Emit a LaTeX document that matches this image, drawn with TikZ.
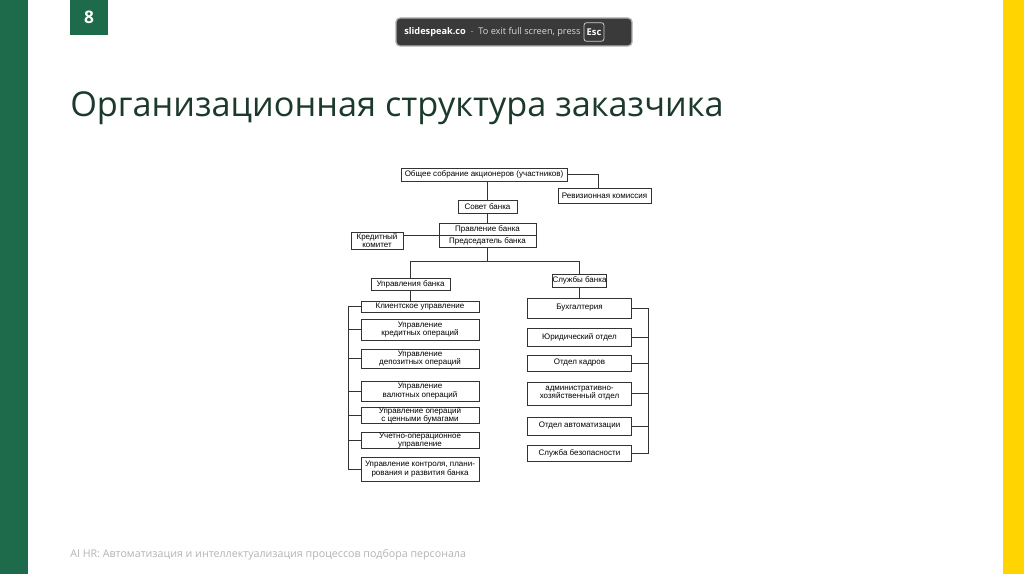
\documentclass[tikz,border=0pt]{standalone}
\usepackage{fontspec}
\setmainfont{Open Sans}
\newfontfamily\chartfont{Liberation Sans}
\definecolor{slidegreen}{HTML}{1E6B4B}
\definecolor{slideyellow}{HTML}{FFD400}
\definecolor{titlecolor}{HTML}{1C3A2C}
\definecolor{footcolor}{HTML}{B4B4B4}
\definecolor{barcolor}{HTML}{3A3A3A}
\definecolor{chartline}{HTML}{333333}
\tikzset{
  box/.style={draw=chartline, line width=0.6pt, inner sep=0pt, align=center,
    font=\chartfont\fontsize{6}{6.2}\selectfont},
  link/.style={draw=chartline, line width=0.6pt}
}
\begin{document}
\begin{tikzpicture}[x=0.75pt,y=-0.75pt]
          \useasboundingbox (0,0) rectangle (1024,574);
          \fill[white] (0,0) rectangle (1024,574);
          % slide frame
          \fill[slidegreen] (0,0) rectangle (28,574);
          \fill[slideyellow] (1003,0) rectangle (1024,574);
          \fill[slidegreen] (70,0) rectangle (108,35);
          \node[text=white, font=\bfseries\fontsize{13}{13}\selectfont] (pagenum) at (89,17) {8};
          % full screen hint
          \draw[fill=barcolor, draw=gray!60, line width=1pt, rounded corners=3pt] (396,18) rectangle (632,46);
          \node[anchor=west, text=white, font=\fontsize{6.9}{6.9}\selectfont, inner sep=0pt] (hint) at (404,32)
            {\textbf{slidespeak.co}\ \ \textcolor{gray!70}{-}\ \ \textcolor{white!85!black}{To exit full screen, press}};
          \node[draw=white!80!black, rounded corners=2pt, text=white, line width=0.6pt,
            font=\bfseries\fontsize{7}{7}\selectfont, minimum height=14pt, inner sep=2pt] (esc) at (594,32) {Esc};
          % title and footer
          \node[anchor=base west, text=titlecolor, inner sep=0pt, font=\fontsize{25.7}{25.7}\selectfont] (title) at (70,117)
            {Организационная структура заказчика};
          \node[anchor=base west, text=footcolor, inner sep=0pt, font=\fontsize{8}{8}\selectfont] (footer) at (70,557)
            {AI HR: Автоматизация и интеллектуализация процессов подбора персонала};
          % top of the chart
          \node[box, minimum width=124.5pt, minimum height=9.75pt] (general) at (484,174.5)
            {Общее собрание акционеров (участников)};
          \node[box, minimum width=69.75pt, minimum height=11.25pt] (revision) at (604.5,195.5)
            {Ревизионная комиссия};
          \node[box, minimum width=44.25pt, minimum height=9.75pt] (council) at (487.5,206.5)
            {Совет банка};
          \node[box, minimum width=72.75pt, minimum height=9pt] (board) at (487.5,229)
            {Правление банка};
          \node[box, minimum width=72.75pt, minimum height=9pt] (chair) at (487.5,241)
            {Председатель банка};
          \node[box, minimum width=39pt, minimum height=12.75pt] (credit) at (377,240.5)
            {Кредитный\\комитет};
          \node[box, minimum width=59.25pt, minimum height=9pt] (mgmt) at (410.5,284)
            {Управления банка};
          \node[box, minimum width=40.5pt, minimum height=9.75pt] (services) at (579.5,280.5)
            {Службы банка};
          \draw[link] (general.east) -| ([xshift=-4.5pt]revision.north);
          \draw[link] (council.north) -- (council.north |- general.south);
          \draw[link] (council.south) -- (board.north);
          \draw[link] (board.south west) -- (board.south west -| credit.east);
          \coordinate (split) at ([yshift=-10.5pt]chair.south);
          \draw[link] (chair.south) -- (split);
          \draw[link] (mgmt.north) |- (split) -| (services.north);
          % left column
          \node[box, minimum width=88.5pt, minimum height=8.25pt] (l1) at (420,306.5)
            {Клиентское управление};
          \node[box, minimum width=88.5pt, minimum height=15.75pt] (l2) at (420,329.5)
            {Управление\\кредитных операций};
          \node[box, minimum width=88.5pt, minimum height=14.25pt] (l3) at (420,358.5)
            {Управление\\депозитных операций};
          \node[box, minimum width=88.5pt, minimum height=15pt] (l4) at (420,391)
            {Управление\\валютных операций};
          \node[box, minimum width=88.5pt, minimum height=11.25pt] (l5) at (420,415.5)
            {Управление операций\\с ценными бумагами};
          \node[box, minimum width=88.5pt, minimum height=11.25pt] (l6) at (420,440.5)
            {Учетно-операционное\\управление};
          \node[box, minimum width=88.5pt, minimum height=18pt] (l7) at (420,469)
            {Управление контроля, плани-\\рования и развития банка};
          \coordinate (lspine) at (348,0);
          \draw[link] (mgmt.south) -- (mgmt.south |- l1.north);
          \draw[link] (l1.west) -- (l1.west -| lspine) -- (l7.west -| lspine) -- (l7.west);
          \foreach \n in {l2,l3,l4,l5,l6}
            \draw[link] (\n.west) -- (\n.west -| lspine);
          % right column
          \node[box, minimum width=78pt, minimum height=15pt] (r1) at (579.5,308)
            {Бухгалтерия};
          \node[box, minimum width=78pt, minimum height=13.5pt] (r2) at (579.5,337)
            {Юридический отдел};
          \node[box, minimum width=78pt, minimum height=12pt] (r3) at (579.5,363)
            {Отдел кадров};
          \node[box, minimum width=78pt, minimum height=17.25pt] (r4) at (579.5,393.5)
            {административно-\\хозяйственный отдел};
          \node[box, minimum width=78pt, minimum height=13.5pt] (r5) at (579.5,426)
            {Отдел автоматизации};
          \node[box, minimum width=78pt, minimum height=12pt] (r6) at (579.5,453)
            {Служба безопасности};
          \coordinate (rspine) at (648,0);
          \draw[link] (services.south) -- (r1.north);
          \draw[link] (r1.east) -- (r1.east -| rspine) -- (r6.east -| rspine) -- (r6.east);
          \foreach \n in {r2,r3,r4,r5}
            \draw[link] (\n.east) -- (\n.east -| rspine);
        \end{tikzpicture}
\end{document}
